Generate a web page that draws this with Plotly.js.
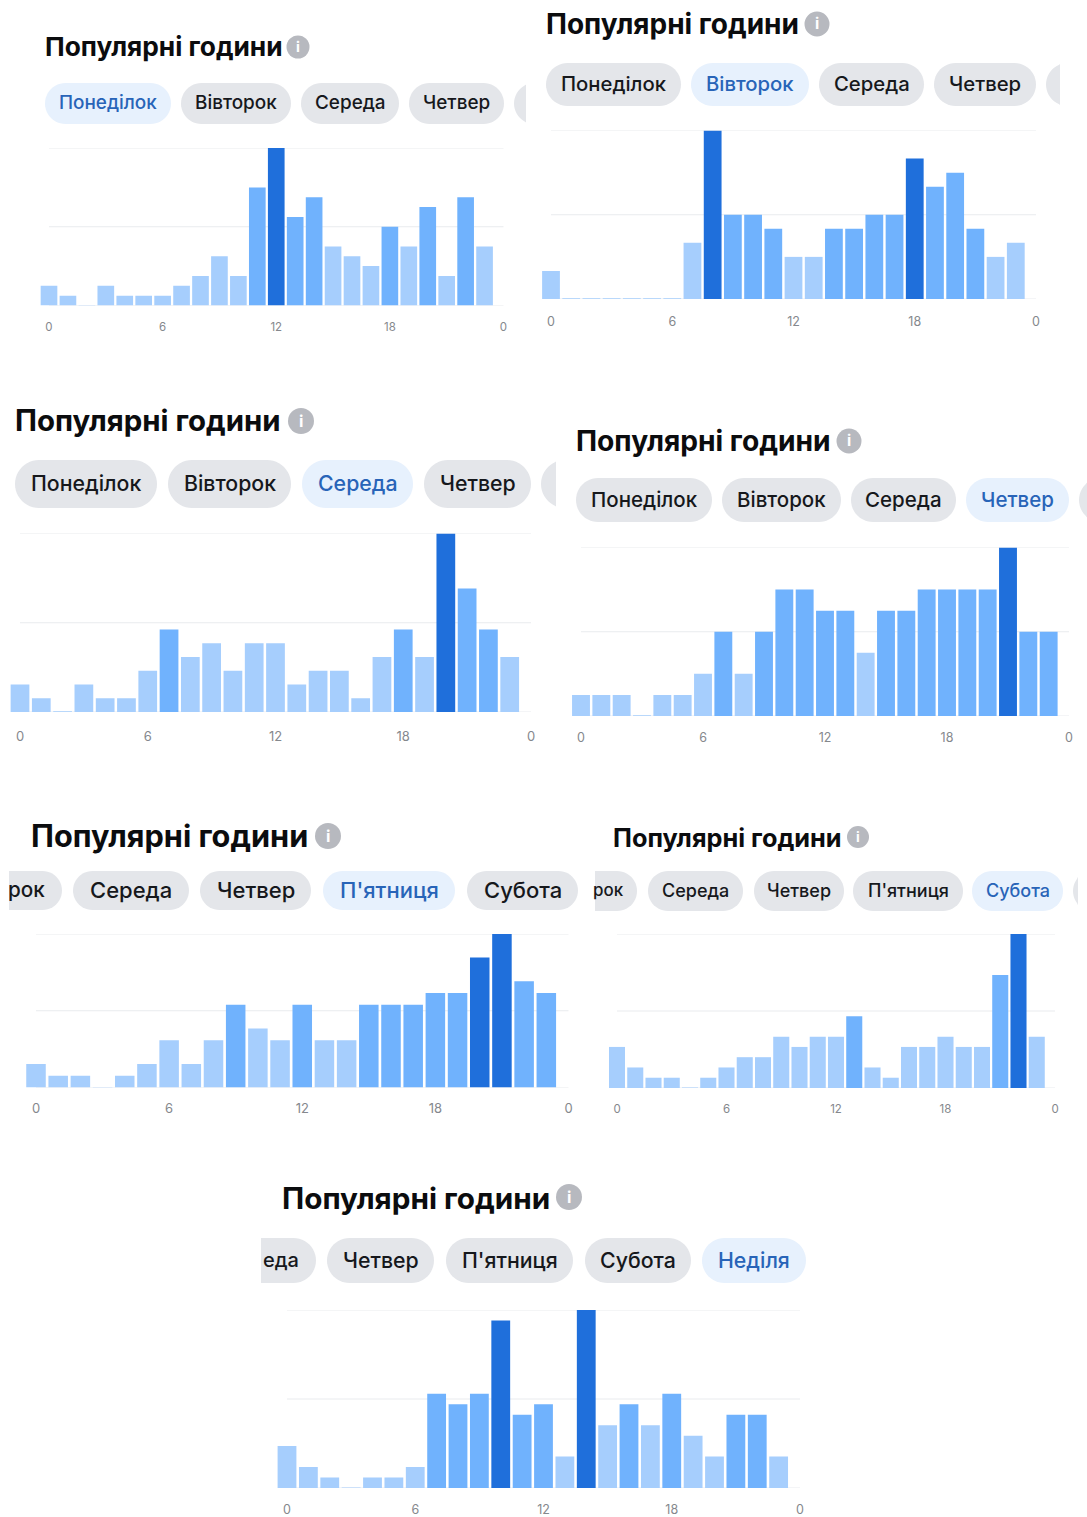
<!DOCTYPE html>
<html>
<head>
<meta charset="utf-8">
<script src="https://cdn.plot.ly/plotly-3.0.1.min.js"></script>
<style>html,body{margin:0;padding:0;background:#fff}#c{width:1087px;height:1517px}</style>
</head>
<body>
<div id="c"></div>
<script>
// ---- data: activity per hour, in the chart's own small units ----
const hours = [0,1,2,3,4,5,6,7,8,9,10,11,12,13,14,15,16,17,18,19,20,21,22,23];
const monday    = [2,1,0.05,2,1,1,1,2,3,5,3,12,16,9,11,6,5,4,8,6,10,3,11,6];
const tuesday   = [2,0.05,0.05,0.05,0.05,0.05,0.05,4,12,6,6,5,3,3,5,5,6,6,10,8,9,5,3,4];
const wednesday = [2,1,0.05,2,1,1,3,6,4,5,3,5,5,2,3,3,1,4,6,4,13,9,6,4];
const thursday  = [1,1,1,0.03,1,1,2,4,2,4,6,6,5,5,3,5,5,6,6,6,6,8,4,4];
const friday    = [2,1,1,0.05,1,2,4,2,4,7,5,4,7,4,4,7,7,7,8,8,11,13,9,8];
const saturday  = [4,2,1,1,0.05,1,2,3,3,5,4,5,5,7,2,1,4,4,5,4,4,11,15,5];
const sunday    = [4,2,1,0.05,1,1,2,9,8,9,16,7,8,3,17,6,8,6,9,5,3,7,7,3];
const tickVals = [0,6,12,18,24];
const tickText = ['0','6','12','18','0'];
const titleText = 'Популярні години';
const dayNames = ['Понеділок','Вівторок','Середа','Четвер',"П'ятниця",'Субота','Неділя'];

// ---- layout of the seven pasted screenshots (pixels) ----
const W = 1087, H = 1517;
const panels = [
 {v:monday, tx:45, ty:47, ts:26.3, ix:298, iy:47, ir:11.5, py:[83,124], ps:18.9, active:0,
  pills:[[0,45,171],[1,181,291],[2,301,399],[3,409,504],[null,514,526]],
  x0:49, x24:503.5, top:148, base:305.5, lab:326, ls:11.5},
 {v:tuesday, tx:546, ty:24, ts:28, ix:817, iy:24, ir:12.5, py:[63,106], ps:20.3, active:1,
  pills:[[0,546,681],[1,691,809],[2,819,924],[3,934,1036],[null,1046,1060]],
  x0:551, x24:1036, top:130.5, base:299, lab:321, ls:12.5},
 {v:wednesday, tx:15, ty:421, ts:29.4, ix:301, iy:421, ir:13, py:[460,508], ps:21.3, active:2,
  pills:[[0,15,157],[1,168,291],[2,302,413],[3,424,531],[null,541,556]],
  x0:20, x24:531, top:533.5, base:712, lab:735.5, ls:13},
 {v:thursday, tx:576, ty:441, ts:28.2, ix:849, iy:441, ir:12.5, py:[478,522], ps:20.5, active:3,
  pills:[[0,576,712],[1,722,841],[2,851,956],[3,966,1069],[null,1079,1087]],
  x0:581, x24:1069, top:547.5, base:716, lab:737, ls:12.5},
 {v:friday, tx:31, ty:836, ts:30.7, ix:328, iy:836, ir:13, py:[871,910], ps:22, active:4,
  pills:[['рок',-20,62,46],[2,73,189],[3,200,311],[4,323,455],[5,467,578]],
  clipL:9, x0:36, x24:568.5, top:934, base:1087.5, lab:1107, ls:13},
 {v:saturday, tx:613, ty:837, ts:25.3, ix:858, iy:837, ir:11, py:[871,911], ps:18, active:5,
  pills:[['рок',560,637,625],[2,648,743],[3,754,844],[4,853,963],[5,972,1063],[null,1073,1078]],
  clipL:595, x0:617, x24:1055, top:934, base:1088, lab:1108, ls:11.5},
 {v:sunday, tx:282, ty:1198, ts:29.7, ix:569, iy:1197, ir:13, py:[1238,1283], ps:21.3, active:6,
  pills:[['еда',225,316,300],[3,327,434],[4,446,573],[5,585,691],[6,702,806]],
  clipL:261, x0:287, x24:800, top:1310, base:1488, lab:1509, ls:12.5}
];

const COL = {dark:'#1f6fdb', mid:'#70b2fd', light:'#a6cefd', grid:'#e9ebee', pill:'#e4e6ea',
             activePill:'#e7f1fd', activeText:'#2864b8', text:'#16181c', tick:'#85888d', info:'#b7b9bf'};
const FONT = 'Inter, Roboto, "Noto Sans", sans-serif';

const fx = p => p / W, fy = p => 1 - p / H;
function tier(val, max){ const r = val / max; return r >= 0.8 ? COL.dark : r >= 0.4 ? COL.mid : COL.light; }
// pill outline: clockwise-safe polygon along the end arcs, so a narrow sliver clips cleanly at its right edge
function pillPath(a, b, t, u, roundL, roundR){
  const r = (u - t) / 2, cy = t + r, pts = [], N = 24;
  if (roundL) {
    for (let i = 0; i <= N; i++) {            // top -> left -> bottom
      const th = Math.PI * (0.5 + i / N);
      pts.push([Math.min(a + r + r * Math.cos(th), b), cy - r * Math.sin(th)]);
    }
  } else { pts.push([a, t], [a, u]); }
  if (roundR) {
    for (let i = 0; i <= N; i++) {            // bottom -> right -> top
      const th = Math.PI * (-0.5 + i / N);
      pts.push([b - r + r * Math.cos(th), cy - r * Math.sin(th)]);
    }
  } else { pts.push([b, u], [b, t]); }
  return 'M' + pts.map(q => fx(q[0]) + ',' + fy(q[1])).join(' L') + ' Z';
}

const traces = [], shapes = [], annotations = [];
const layout = {width:W, height:H, margin:{l:0,r:0,t:0,b:0}, showlegend:false, bargap:0.12,
  paper_bgcolor:'#fff', plot_bgcolor:'rgba(0,0,0,0)', font:{family:FONT}, hovermode:false};

panels.forEach((p, i) => {
  const n = i === 0 ? '' : String(i + 1);
  const step = (p.x24 - p.x0) / 24, pad = 0.6;
  const max = Math.max(...p.v);
  traces.push({type:'bar', x:hours, y:p.v, xaxis:'x'+n, yaxis:'y'+n, width:0.88,
    marker:{color:p.v.map(v => tier(v, max)), line:{width:0}}});
  layout['xaxis'+n] = {domain:[fx(p.x0 - pad*step), fx(p.x24 + 4)], range:[-pad, 24 + 4/step],
    anchor:'y'+n, showgrid:false, zeroline:false, showline:false, fixedrange:true,
    tickmode:'array', tickvals:tickVals, ticktext:tickText, ticks:'outside',
    ticklen:p.lab - p.base - p.ls*0.62 - 3, tickcolor:'rgba(0,0,0,0)', tickangle:0,
    tickfont:{family:FONT, size:p.ls, color:COL.tick}};
  layout['yaxis'+n] = {domain:[fy(p.base), fy(p.top)], range:[0, max], anchor:'x'+n,
    showgrid:false, zeroline:false, showline:false, showticklabels:false, ticks:'', fixedrange:true};

  [0, max/2, max].forEach(g => shapes.push({type:'line', xref:'x'+n, yref:'y'+n, layer:'below',
    x0:0, x1:24, y0:g, y1:g, line:{color:COL.grid, width:1}}));

  // title and info icon
  annotations.push({xref:'paper', yref:'paper', x:fx(p.tx - 2), y:fy(p.ty), xanchor:'left', yanchor:'middle',
    showarrow:false, text:titleText, font:{family:FONT, size:p.ts, weight:700, color:'#0b0c0e'}});
  shapes.push({type:'circle', xref:'paper', yref:'paper', x0:fx(p.ix-p.ir), x1:fx(p.ix+p.ir),
    y0:fy(p.iy+p.ir), y1:fy(p.iy-p.ir), fillcolor:COL.info, line:{width:0}});
  annotations.push({xref:'paper', yref:'paper', x:fx(p.ix), y:fy(p.iy), xanchor:'center', yanchor:'middle',
    showarrow:false, text:'i', font:{family:FONT, size:p.ir*1.25, weight:700, color:'#fff'}});

  // day pills
  p.pills.forEach(([d, a, b, textEnd]) => {
    const isActive = d === p.active, clippedL = typeof d === 'string', clippedR = d === null;
    const left = clippedL ? p.clipL : a;
    shapes.push({type:'path', xref:'paper', yref:'paper',
      path:pillPath(left, b, p.py[0], p.py[1], !clippedL, !clippedR),
      fillcolor:isActive ? COL.activePill : COL.pill, line:{width:0}});
    if (clippedR) return;
    const mid = (p.py[0] + p.py[1]) / 2 - 1;
    if (clippedL) {
      annotations.push({xref:'paper', yref:'paper', x:fx(textEnd + 1), y:fy(mid),
        xanchor:'right', yanchor:'middle', showarrow:false, text:d,
        font:{family:FONT, size:p.ps*0.94, weight:500, color:COL.text}});
    } else {
      annotations.push({xref:'paper', yref:'paper', x:fx((a+b)/2), y:fy(mid),
        xanchor:'center', yanchor:'middle', showarrow:false, text:dayNames[d],
        font:{family:FONT, size:p.ps, weight:500, color:isActive ? COL.activeText : COL.text}});
    }
  });
});

layout.shapes = shapes;
layout.annotations = annotations;
Plotly.newPlot('c', traces, layout, {displayModeBar:false, staticPlot:true});
</script>
</body>
</html>
